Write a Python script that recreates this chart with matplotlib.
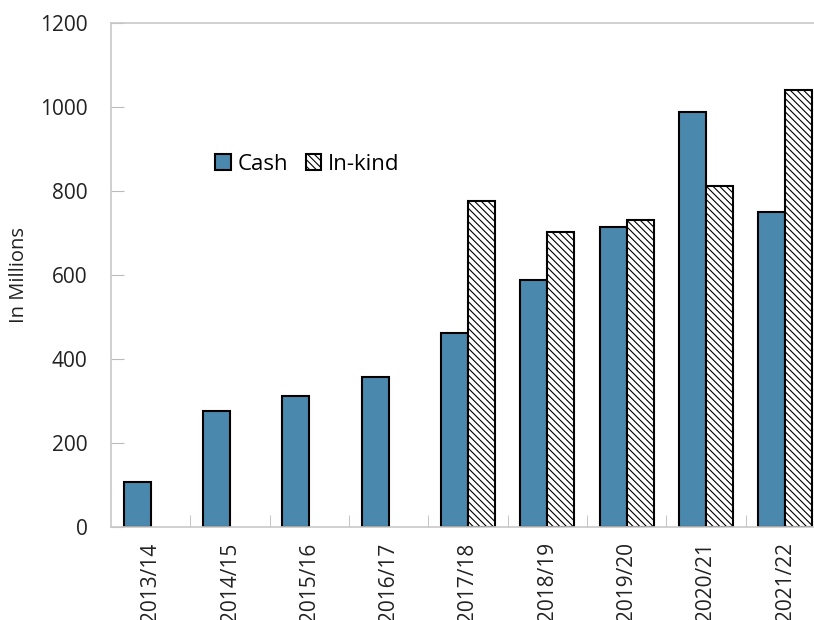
import matplotlib
matplotlib.use("Agg")
import matplotlib.pyplot as plt
import numpy as np

# fiscal years and funding (in millions)
years = ['2013/14', '2014/15', '2015/16', '2016/17', '2017/18',
         '2018/19', '2019/20', '2020/21', '2021/22']
cash = [108, 275, 311, 358, 462, 588, 714, 987, 750]
in_kind = [0, 0, 0, 0, 775, 702, 731, 812, 1040]

plt.rcParams['font.family'] = ['Open Sans', 'DejaVu Sans']
plt.rcParams['hatch.linewidth'] = 0.8

fig = plt.figure(figsize=(8.14, 6.2), dpi=100)
ax = fig.add_axes([0.1364, 0.15, 0.877, 0.813])

x = np.arange(len(years))
w = 0.34
ax.bar(x - w / 2, cash, w, color='#4a89ad', edgecolor='black', linewidth=1.5, label='Cash')
kind_x = [xi + w / 2 for xi, v in zip(x, in_kind) if v > 0]
kind_v = [v for v in in_kind if v > 0]
ax.bar(kind_x, kind_v, w, color='white', edgecolor='black', linewidth=1.5,
       hatch='\\\\\\\\\\', label='In-kind')

ax.set_xlim(-0.5, len(years) - 0.5)
ax.set_ylim(0, 1200)
ax.set_yticks(range(0, 1201, 200))
ax.set_xticks(x)
ax.set_xticklabels(years, rotation=90, fontsize=15, color='#222222')
ax.set_xticks(np.arange(0.5, len(years) - 0.5, 1), minor=True)
ax.tick_params(axis='x', which='major', length=0, pad=11)
ax.tick_params(axis='x', which='minor', direction='in', length=9, color='#bbbbbb')
ax.tick_params(axis='y', direction='in', length=9, color='#bbbbbb', labelsize=15,
               labelcolor='#222222', pad=17)
for s in ax.spines.values():
    s.set_color('#c8c8c8')
    s.set_linewidth(1.2)

ax.set_ylabel('In Millions', fontsize=14.5, color='#222222', labelpad=8)
ax.legend(loc='center left', bbox_to_anchor=(0.118, 0.72), ncol=2, frameon=False,
          fontsize=16, handlelength=0.7, handleheight=0.7, handletextpad=0.3,
          columnspacing=0.8)

fig.savefig('out.png', dpi=100)
